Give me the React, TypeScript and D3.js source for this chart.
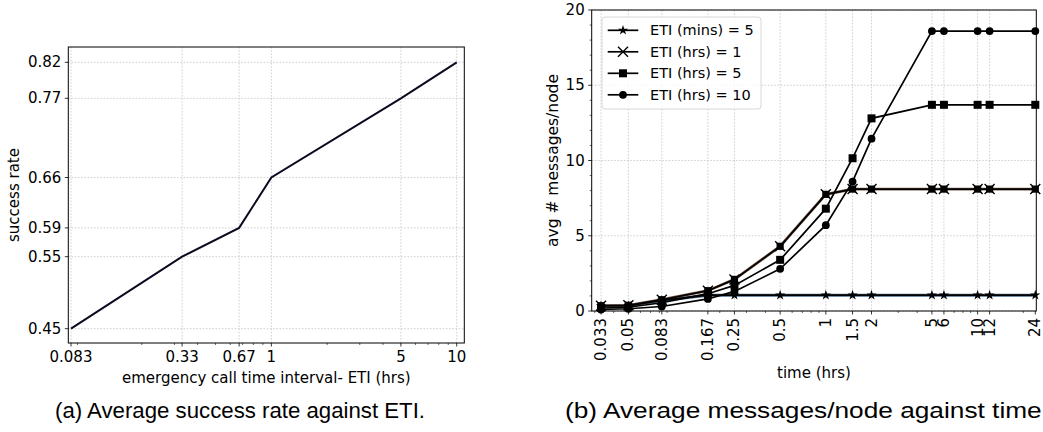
import React from 'react';
import * as d3 from 'd3';

// ---------- data: chart (a) ----------
const etiValues = [0.083, 0.33, 0.67, 1, 5, 10];
const successRate = [0.45, 0.55, 0.59, 0.66, 0.77, 0.82];
const etiTickLabels = ['0.083', '0.33', '0.67', '1', '5', '10'];
const successTicks = [0.45, 0.55, 0.59, 0.66, 0.77, 0.82];

// ---------- data: chart (b) ----------
const timeValues = [0.033, 0.05, 0.083, 0.167, 0.25, 0.5, 1, 1.5, 2, 5, 6, 10, 12, 24];
const timeTickLabels = ['0.033', '0.05', '0.083', '0.167', '0.25', '0.5', '1', '1.5', '2', '5', '6', '10', '12', '24'];
const msgEti5min = [0.35, 0.35, 0.7, 1.05, 1.05, 1.05, 1.05, 1.05, 1.05, 1.05, 1.05, 1.05, 1.05, 1.05];
const msgEti1hr = [0.35, 0.38, 0.75, 1.35, 2.1, 4.3, 7.75, 8.1, 8.1, 8.1, 8.1, 8.1, 8.1, 8.1];
const msgEti5hr = [0.2, 0.25, 0.55, 1.15, 1.7, 3.4, 6.8, 10.15, 12.8, 13.7, 13.7, 13.7, 13.7, 13.7];
const msgEti10hr = [0.1, 0.15, 0.3, 0.8, 1.3, 2.8, 5.7, 8.6, 11.45, 18.6, 18.6, 18.6, 18.6, 18.6];
const msgTicks = [0, 5, 10, 15, 20];
const seriesLabels = ['ETI (mins) = 5', 'ETI (hrs) = 1', 'ETI (hrs) = 5', 'ETI (hrs) = 10'];
const seriesMarkers = ['star', 'x', 'square', 'circle'];

const captionA = '(a) Average success rate against ETI.';
const captionB = '(b) Average messages/node against time.';

const FONT = 'DejaVu Sans, sans-serif';
const GRID = '#c4c4c4';

function minorLogTicks(domain: number[], majors: number[]) {
  const out: number[] = [];
  for (let n = -3; n <= 2; n++) {
    for (let k = 2; k <= 9; k++) {
      const v = k * Math.pow(10, n);
      if (v >= domain[0] && v <= domain[1] && !majors.some((m) => Math.abs(m - v) / v < 1e-6)) out.push(v);
    }
  }
  return out;
}

function Marker({ type, x, y }: { type: string; x: number; y: number }) {
  if (type === 'star') {
    return <path d={d3.symbol(d3.symbolStar, 32)() as string} transform={`translate(${x},${y})`} fill="#000" />;
  }
  if (type === 'square') {
    return <rect x={x - 4} y={y - 4} width={8} height={8} fill="#000" />;
  }
  if (type === 'circle') {
    return <circle cx={x} cy={y} r={3.9} fill="#000" />;
  }
  if (type === 'xsq') {
    return (
      <g>
        <rect x={x - 3.6} y={y - 3.6} width={7.2} height={7.2} fill="#000" />
        <path d={`M${x - 5},${y - 5}L${x + 5},${y + 5}M${x - 5},${y + 5}L${x + 5},${y - 5}`} stroke="#000" strokeWidth={1.4} />
      </g>
    );
  }
  return <path d={`M${x - 5},${y - 5}L${x + 5},${y + 5}M${x - 5},${y + 5}L${x + 5},${y - 5}`} stroke="#000" strokeWidth={1.4} />;
}

export default function App() {
  // ---------- chart (a) ----------
  const A = { x0: 68.3, x1: 464.3, y0: 47, y1: 343 };
  const xA = d3.scaleLog().domain([Math.pow(10, -1.0955), Math.pow(10, 1.041)]).range([A.x0, A.x1]);
  const yA = d3.scaleLinear().domain([0.4301, 0.8413]).range([A.y1, A.y0]);
  const lineA = d3.line<number>().x((_, i) => xA(etiValues[i])).y((d) => yA(d));
  const minorA = minorLogTicks(xA.domain(), etiValues);

  // ---------- chart (b) ----------
  const B = { x0: 591.7, x1: 1036.3, y0: 10, y1: 311 };
  const xB = d3.scaleLog().domain([Math.pow(10, -1.5428), Math.pow(10, 1.3868)]).range([B.x0, B.x1]);
  const yB = d3.scaleLinear().domain([0, 20]).range([B.y1, B.y0]);
  const lineB = d3.line<number>().x((_, i) => xB(timeValues[i])).y((d) => yB(d));
  const minorB = minorLogTicks(xB.domain(), timeValues);
  const minorYB = d3.range(0, 21).filter((v) => v % 5 !== 0);
  const series = [msgEti5min, msgEti1hr, msgEti5hr, msgEti10hr];

  return (
    <svg width={1043} height={432} style={{ position: 'absolute', left: 0, top: 0, background: '#fff' }} fontFamily={FONT}>
      <rect width={1043} height={432} fill="#fff" />
      {/* ===== chart (a) ===== */}
      <g>
        {etiValues.map((v, i) => (
          <line key={'gx' + i} x1={xA(v)} x2={xA(v)} y1={A.y0} y2={A.y1} stroke={GRID} strokeWidth={0.8} strokeDasharray="1.6,1.6" />
        ))}
        {successTicks.map((v, i) => (
          <line key={'gy' + i} x1={A.x0} x2={A.x1} y1={yA(v)} y2={yA(v)} stroke={GRID} strokeWidth={0.8} strokeDasharray="1.6,1.6" />
        ))}
        <path d={lineA(successRate) as string} fill="none" stroke="#0a0a20" strokeWidth={2} />
        <rect x={A.x0} y={A.y0} width={A.x1 - A.x0} height={A.y1 - A.y0} fill="none" stroke="#000" strokeWidth={1} />
        {etiValues.map((v, i) => (
          <g key={'tx' + i}>
            <line x1={xA(v)} x2={xA(v)} y1={A.y1} y2={A.y1 + 3.5} stroke="#000" strokeWidth={0.8} />
            <text x={xA(v)} y={A.y1 + 18.5} fontSize={15} textAnchor="middle">{etiTickLabels[i]}</text>
          </g>
        ))}
        {minorA.map((v, i) => (
          <line key={'mx' + i} x1={xA(v)} x2={xA(v)} y1={A.y1} y2={A.y1 + 2} stroke="#000" strokeWidth={0.6} />
        ))}
        {successTicks.map((v, i) => (
          <g key={'ty' + i}>
            <line x1={A.x0 - 3.5} x2={A.x0} y1={yA(v)} y2={yA(v)} stroke="#000" strokeWidth={0.8} />
            <text x={A.x0 - 7} y={yA(v)} fontSize={15} textAnchor="end" dominantBaseline="central">{v.toFixed(2)}</text>
          </g>
        ))}
        <text x={(A.x0 + A.x1) / 2} y={383} fontSize={15} textAnchor="middle">emergency call time interval- ETI (hrs)</text>
        <text transform={`translate(14,${(A.y0 + A.y1) / 2}) rotate(-90)`} fontSize={15} textAnchor="middle" dominantBaseline="central">success rate</text>
      </g>

      {/* ===== chart (b) ===== */}
      <g>
        {timeValues.slice(0, -1).map((v, i) => (
          <line key={'bgx' + i} x1={xB(v)} x2={xB(v)} y1={B.y0} y2={B.y1} stroke={GRID} strokeWidth={0.8} strokeDasharray="1.6,1.6" />
        ))}
        {msgTicks.map((v, i) => (
          <line key={'bgy' + i} x1={B.x0} x2={B.x1} y1={yB(v)} y2={yB(v)} stroke={GRID} strokeWidth={0.8} strokeDasharray="1.6,1.6" />
        ))}
        {/* coloured under-strokes visible at edges of overlapping lines */}
        <path d={lineB(msgEti5min) as string} fill="none" stroke="#4a6a8c" strokeWidth={3} />
        <path d={lineB(msgEti1hr) as string} fill="none" stroke="#7a5c4a" strokeWidth={2.8} />
        {series.map((s, si) => (
          <path key={'bl' + si} d={lineB(s) as string} fill="none" stroke="#000" strokeWidth={1.7} />
        ))}
        {series.map((s, si) => (
          <g key={'bm' + si}>
            {s.map((v, i) => (
              <Marker key={i} type={seriesMarkers[si] === 'x' ? 'xsq' : seriesMarkers[si]} x={xB(timeValues[i])} y={yB(v)} />
            ))}
          </g>
        ))}
        <rect x={B.x0} y={B.y0} width={B.x1 - B.x0} height={B.y1 - B.y0} fill="none" stroke="#000" strokeWidth={1} />
        {timeValues.map((v, i) => (
          <g key={'btx' + i}>
            <line x1={xB(v)} x2={xB(v)} y1={B.y1} y2={B.y1 + 3.5} stroke="#000" strokeWidth={0.8} />
            <text transform={`translate(${xB(v)},${B.y1 + 7}) rotate(-90)`} fontSize={15} textAnchor="end" dominantBaseline="central">{timeTickLabels[i]}</text>
          </g>
        ))}
        {minorB.map((v, i) => (
          <line key={'bmx' + i} x1={xB(v)} x2={xB(v)} y1={B.y1} y2={B.y1 + 2} stroke="#000" strokeWidth={0.6} />
        ))}
        {minorYB.map((v, i) => (
          <line key={'bmy' + i} x1={B.x0 - 2} x2={B.x0} y1={yB(v)} y2={yB(v)} stroke="#000" strokeWidth={0.6} />
        ))}
        {msgTicks.map((v, i) => (
          <g key={'bty' + i}>
            <line x1={B.x0 - 3.5} x2={B.x0} y1={yB(v)} y2={yB(v)} stroke="#000" strokeWidth={0.8} />
            <text x={B.x0 - 7} y={yB(v)} fontSize={15} textAnchor="end" dominantBaseline="central">{v}</text>
          </g>
        ))}
        <text x={(B.x0 + B.x1) / 2} y={378} fontSize={15} textAnchor="middle">time (hrs)</text>
        <text transform={`translate(553,${(B.y0 + B.y1) / 2}) rotate(-90)`} fontSize={15.5} textAnchor="middle" dominantBaseline="central">avg # messages/node</text>

        {/* legend */}
        <rect x={602} y={17} width={159} height={92} rx={3} fill="#fff" fillOpacity={0.8} stroke="#d8d8d8" strokeWidth={1} />
        {seriesLabels.map((lab, i) => {
          const ly = 30.3 + i * 21.5;
          return (
            <g key={'lg' + i}>
              <line x1={607.7} x2={638.3} y1={ly} y2={ly} stroke="#000" strokeWidth={1.7} />
              <Marker type={seriesMarkers[i]} x={623} y={ly} />
              <text x={650} y={ly} fontSize={14.5} dominantBaseline="central">{lab}</text>
            </g>
          );
        })}
      </g>

      {/* captions */}
      <text x={55} y={418} fontSize={22} fontFamily="Liberation Sans, Arial, sans-serif" textLength={370} lengthAdjust="spacingAndGlyphs">{captionA}</text>
      <text x={565} y={418} fontSize={22} fontFamily="Liberation Sans, Arial, sans-serif" textLength={484} lengthAdjust="spacingAndGlyphs">{captionB}</text>
    </svg>
  );
}
